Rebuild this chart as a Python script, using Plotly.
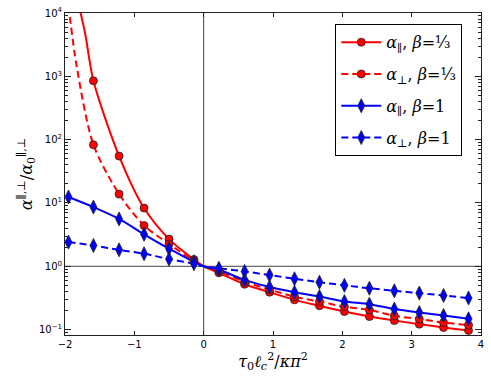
import plotly.graph_objects as go

# ---- data ----
x_markers = [-1.95, -1.59, -1.22, -0.86, -0.50, -0.14, 0.22, 0.59, 0.95,
             1.31, 1.67, 2.03, 2.39, 2.75, 3.11, 3.46, 3.82]

red_par = [None, 850, 55, 8.3, 2.69, 1.28, 0.79, 0.52, 0.39, 0.295, 0.238,
           0.193, 0.161, 0.139, 0.122, 0.108, 0.097]
red_perp = [None, 83, 13.8, 4.4, 2.25, 1.22, 0.84, 0.57, 0.43, 0.33, 0.278,
            0.23, 0.205, 0.165, 0.147, 0.129, 0.118]
blue_par = [12.4, 8.6, 5.6, 3.2, 1.9, 1.18, 0.88, 0.61, 0.47, 0.39, 0.333,
            0.278, 0.252, 0.211, 0.186, 0.167, 0.148]
blue_perp = [2.41, 2.13, 1.82, 1.58, 1.30, 1.10, 0.93, 0.83, 0.726, 0.635,
             0.56, 0.50, 0.45, 0.41, 0.377, 0.346, 0.315]

# extra points where the curves leave the top of the frame, and common crossing
red_par_top_x = [-1.80, -1.71]
red_par_top_y = [13000, 4800]
red_perp_top_x = [-1.95, -1.83]
red_perp_top_y = [13000, 1400]
cross_x, cross_y = 0.0, 1.0

labels = ["<i>α</i><sub>∥</sub>, <i>β</i>=⅓",
          "<i>α</i><sub>⊥</sub>, <i>β</i>=⅓",
          "<i>α</i><sub>∥</sub>, <i>β</i>=1",
          "<i>α</i><sub>⊥</sub>, <i>β</i>=1"]

x_ticks = [-2, -1, 0, 1, 2, 3, 4]
x_ticktext = ["−2", "−1", "0", "1", "2", "3", "4"]
y_ticks = [0.1, 1, 10, 100, 1000, 10000]
y_ticktext = ["10<sup>−1</sup>", "10<sup>0</sup>", "10<sup>1</sup>",
              "10<sup>2</sup>", "10<sup>3</sup>", "10<sup>4</sup>"]


def line_points(xs, ys, top_x=None, top_y=None):
    pts = [(x, y) for x, y in zip(xs, ys) if y is not None]
    if top_x:
        pts += list(zip(top_x, top_y))
    pts.append((cross_x, cross_y))
    pts.sort()
    return [p[0] for p in pts], [p[1] for p in pts]


series = [
    (red_par, "red", "solid", "circle", 8, red_par_top_x, red_par_top_y),
    (red_perp, "red", "7px,4px", "circle", 8, red_perp_top_x, red_perp_top_y),
    (blue_par, "blue", "solid", "diamond-tall", 10, None, None),
    (blue_perp, "blue", "7px,4px", "diamond-tall", 10, None, None),
]

fig = go.Figure()

# reference lines at x=0 and y=1
fig.add_trace(go.Scatter(x=[-2, 4], y=[1, 1], mode="lines",
                         line=dict(color="#444", width=1), showlegend=False,
                         hoverinfo="skip"))
fig.add_trace(go.Scatter(x=[0, 0], y=[0.01, 1e5], mode="lines",
                         line=dict(color="#444", width=1), showlegend=False,
                         hoverinfo="skip"))

for i, (ys, col, dash, sym, msize, tx, ty) in enumerate(series):
    lx, ly = line_points(x_markers, ys, tx, ty)
    fig.add_trace(go.Scatter(x=lx, y=ly, mode="lines",
                             line=dict(color=col, width=2, dash=dash, shape="spline",
                                       smoothing=0.8),
                             showlegend=False, hoverinfo="skip"))
for i, (ys, col, dash, sym, msize, tx, ty) in enumerate(series):
    fig.add_trace(go.Scatter(x=x_markers, y=ys, mode="markers",
                             marker=dict(symbol=sym, size=msize, color=col,
                                         line=dict(color="#222", width=0.8)),
                             showlegend=False, cliponaxis=True))
for i, (ys, col, dash, sym, msize, tx, ty) in enumerate(series):
    fig.add_trace(go.Scatter(x=[None], y=[None], mode="lines+markers",
                             name=labels[i], legendgroup=str(i),
                             line=dict(color=col, width=2, dash=dash),
                             marker=dict(symbol=sym, size=msize, color=col,
                                         line=dict(color="#222", width=0.8))))

axis_common = dict(showline=True, linecolor="#222", linewidth=1, mirror="allticks",
                   ticks="inside", tickcolor="#222", showgrid=False, zeroline=False,
                   automargin=False, ticklabeloverflow="allow",
                   tickfont=dict(family="DejaVu Sans", size=10, color="black"))

fig.update_layout(
    width=491, height=382,
    margin=dict(l=65, r=10, t=13, b=47),
    paper_bgcolor="white", plot_bgcolor="white",
    xaxis=dict(range=[-2, 4], tickvals=x_ticks, ticktext=x_ticktext, ticklen=4,
               title=dict(text="<i>τ</i><sub>0</sub><i>ℓ</i><sub><i>c</i></sub><sup>2</sup>/<i>κπ</i><sup>2</sup>",
                          font=dict(family="DejaVu Serif", size=16, color="black"),
                          standoff=4),
               **axis_common),
    yaxis=dict(type="log", range=[-1.085, 4], tickvals=y_ticks, ticktext=y_ticktext,
               ticklen=6,
               minor=dict(ticks="inside", ticklen=3, tickcolor="#222", dtick="D1",
                          showgrid=False),
               title=dict(text="<i>α</i><sup>∥,⊥</sup>/<i>α</i><sub>0</sub><sup>∥,⊥</sup>",
                          font=dict(family="DejaVu Serif", size=16, color="black"),
                          standoff=2),
               **axis_common),
    legend=dict(x=0.955, y=0.965, xanchor="right", yanchor="top",
                bgcolor="white", bordercolor="black", borderwidth=1,
                font=dict(family="DejaVu Serif", size=16, color="black"),
                tracegroupgap=8, itemwidth=40),
    showlegend=True,
)

# remove the browser's default page margin so the figure sits at the top-left corner
fig.write_html("out.html", config={"displayModeBar": False},
               post_script="document.body.style.margin='0';document.body.style.overflow='hidden';")
